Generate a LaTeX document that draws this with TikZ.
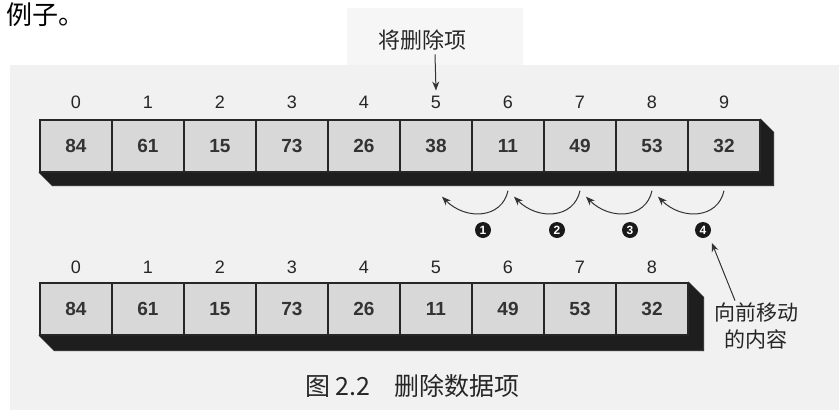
\documentclass[tikz,border=0pt]{standalone}
\usepackage{fontspec}
\setmainfont{Liberation Sans}
\newfontfamily\cjk{Noto Sans CJK SC}
\usetikzlibrary{calc,arrows.meta}
\definecolor{scanbg}{HTML}{F1F1F1}
\definecolor{patchbg}{HTML}{F6F6F6}
\definecolor{cellfill}{HTML}{D8D8D8}
\definecolor{shade}{HTML}{1E1E1E}
\tikzset{
  cellbox/.style={draw=black!85, line width=1.4pt, fill=cellfill, minimum width=72pt, minimum height=52pt, inner sep=0pt, font=\bfseries\fontsize{19}{19}\selectfont, text=black!80},
  idx/.style={inner sep=0pt, font=\fontsize{18}{18}\selectfont, text=black!85},
  shadowpoly/.style={fill=shade, draw=shade, line width=0.8pt},
  arr/.style={line width=1pt, draw=black!80, -{Stealth[length=9pt,width=7pt]}},
  numc/.style={circle, fill=black!90, minimum size=16pt, inner sep=0pt, text=white, font=\bfseries\fontsize{12}{12}\selectfont},
  cjktext/.style={inner sep=0pt, text=black!85, align=center}
}
\begin{document}
\begin{tikzpicture}[x=1pt,y=-1pt]
\useasboundingbox (0,0) rectangle (839,410);
\fill[white] (0,0) rectangle (839,410);
\fill[scanbg] (10,65) rectangle (839,410);
\fill[patchbg] (347,8) rectangle (523,65);
% fragment of text at top left
\node[cjktext, anchor=west, font=\cjk\fontsize{26}{26}\selectfont, text=black] (frag) at (6,15) {例子。};
% top row
\foreach \i/\v in {0/84,1/61,2/15,3/73,4/26,5/38,6/11,7/49,8/53,9/32}{
  \node[cellbox] (t\i) at ({76+72*\i},146) {\v};
  \node[idx] (ti\i) at ({76+72*\i},102) {\i};
}
\fill[shadowpoly] (t0.south west) -- ++(13,13) -- ($(t9.south east)+(13,13)$) -- ($(t9.north east)+(13,13)$) -- (t9.north east) -- (t9.south east) -- cycle;
\foreach \i/\v in {0/84,1/61,2/15,3/73,4/26,5/38,6/11,7/49,8/53,9/32}{
  \node[cellbox] at (t\i) {\v};
}
% bottom row
\foreach \i/\v in {0/84,1/61,2/15,3/73,4/26,5/11,6/49,7/53,8/32}{
  \node[cellbox] (b\i) at ({76+72*\i},309) {\v};
  \node[idx] (bi\i) at ({76+72*\i},267) {\i};
}
\fill[shadowpoly] (b0.south west) -- ++(15,15) -- ($(b8.south east)+(15,15)$) -- ($(b8.north east)+(15,15)$) -- (b8.north east) -- (b8.south east) -- cycle;
\foreach \i/\v in {0/84,1/61,2/15,3/73,4/26,5/11,6/49,7/53,8/32}{
  \node[cellbox] at (b\i) {\v};
}
% deletion label
\node[cjktext, font=\cjk\fontsize{22}{22}\selectfont] (del) at (422,40) {将删除项};
\draw[arr] (del.south) ++(13,4) coordinate (delfoot) (delfoot) -- ($(ti5.north)+(0,-5)$);
% curved arrows
\foreach \k in {1,2,3,4}{
  \pgfmathtruncatemacro{\src}{\k+5}
  \pgfmathtruncatemacro{\dst}{\k+4}
  \coordinate (s\k) at ($(t\src.south)+(0,18)$);
  \coordinate (d\k) at ($(t\dst.south)+(6,24)$);
  \draw[arr] (s\k) .. controls ($(s\k)+(-6,28)$) and ($(d\k)+(24,24)$) .. (d\k);
}
% numbered circles
\node[numc] (c1) at (483,230) {1};
\node[numc] (c2) at (557,230) {2};
\node[numc] (c3) at (630,230) {3};
\node[numc] (c4) at (703,230) {4};
% note
\node[cjktext, font=\cjk\fontsize{21}{27}\selectfont] (note) at (756,326) {向前移动\\的内容};
\draw[arr] ($(note.north)+(-21,-2)$) coordinate (notetail) -- ($(c4.south east)+(3,7)$);
% caption
\node[cjktext, anchor=west, font=\cjk\fontsize{25}{25}\selectfont] (cap) at (305,386) {图 2.2\hspace{24pt}删除数据项};
\end{tikzpicture}
\end{document}
